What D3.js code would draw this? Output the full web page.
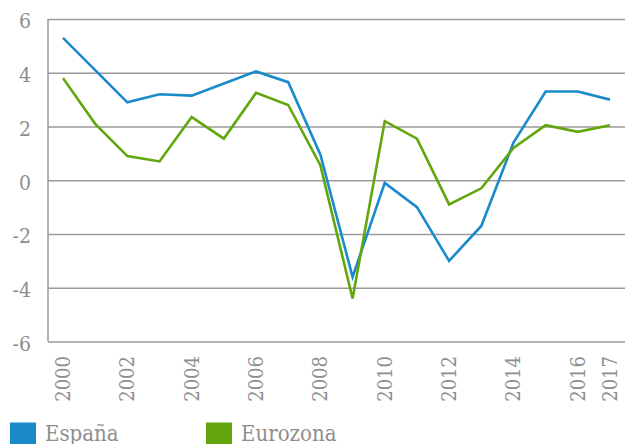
<!DOCTYPE html>
<html>
<head>
<meta charset="utf-8">
<script src="https://cdn.jsdelivr.net/npm/d3@7"></script>
<style>
html,body{margin:0;padding:0;background:#fff;}
svg{display:block;}
text{font-family:"DejaVu Serif Condensed","DejaVu Serif",serif;fill:#8e8e8e;}
</style>
</head>
<body>
<svg id="chart" width="625" height="444"></svg>
<script>
const years = [2000,2001,2002,2003,2004,2005,2006,2007,2008,2009,2010,2011,2012,2013,2014,2015,2016,2017];
const espana = [5.3,4.1,2.9,3.2,3.15,3.6,4.05,3.65,0.95,-3.6,-0.1,-1.0,-3.0,-1.7,1.4,3.3,3.3,3.0];
const eurozona = [3.8,2.1,0.9,0.7,2.35,1.55,3.25,2.8,0.55,-4.4,2.2,1.55,-0.9,-0.3,1.2,2.05,1.8,2.05];
const yTicks = [6,4,2,0,-2,-4,-6];
const xTickLabels = [2000,2002,2004,2006,2008,2010,2012,2014,2016,2017];
const seriesNames = ["España","Eurozona"];
const seriesColors = ["#1a8acb","#62a60c"];

const svg = d3.select("#chart");
const x = d3.scaleLinear().domain([2000,2017]).range([63,610]);
const y = d3.scaleLinear().domain([-6,6]).range([341.5,19]);

// gridlines
const grid = d3.axisLeft(y).tickValues(yTicks).tickSize(-(625-48)).tickFormat("");
const g = svg.append("g").attr("transform","translate(48,0)").call(grid);
g.select(".domain").remove();
g.selectAll(".tick line").attr("stroke","#9a9a9a").attr("stroke-width",1.5);

// left axis line
svg.append("line").attr("x1",48).attr("x2",48).attr("y1",y(6)).attr("y2",y(-6))
  .attr("stroke","#9a9a9a").attr("stroke-width",1.5);

// y labels
svg.append("g").selectAll("text").data(yTicks).join("text")
  .attr("x",31).attr("y",d=>y(d)).attr("dy","0.45em")
  .attr("text-anchor","end").attr("font-size",21)
  .text(d=>d);

// x labels
svg.append("g").selectAll("text").data(xTickLabels).join("text")
  .attr("transform",d=>`translate(${x(d)+7},356) rotate(-90)`)
  .attr("text-anchor","end").attr("font-size",20)
  .text(d=>d);

// lines
const line = d3.line().x((d,i)=>x(years[i])).y(d=>y(d));
[espana,eurozona].forEach((s,i)=>{
  svg.append("path").datum(s).attr("d",line).attr("fill","none")
    .attr("stroke",seriesColors[i]).attr("stroke-width",2.6).attr("stroke-linejoin","miter");
});

// legend
const legX = [10,206];
seriesNames.forEach((n,i)=>{
  svg.append("rect").attr("x",legX[i]).attr("y",422.5).attr("width",26).attr("height",26).attr("fill",seriesColors[i]);
  svg.append("text").attr("x",legX[i]+35).attr("y",441).attr("font-size",22).text(n);
});
</script>
</body>
</html>
